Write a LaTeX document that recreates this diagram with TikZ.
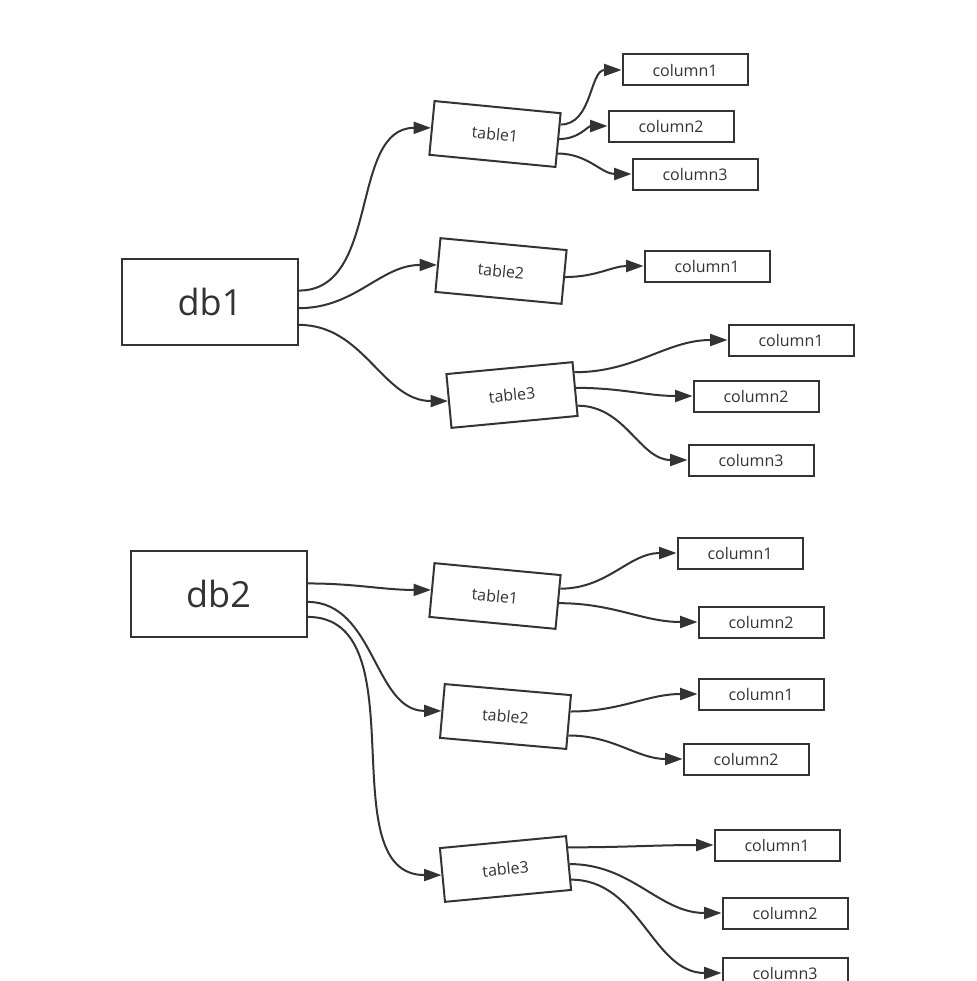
\documentclass[tikz,border=0pt]{standalone}
\usepackage{fontspec}
\setmainfont{Open Sans}
\usetikzlibrary{arrows.meta,calc}
\definecolor{ink}{HTML}{333333}
\tikzset{
  dbbox/.style={draw=ink, line width=1.5pt, minimum width=132pt, minimum height=64.5pt, inner sep=0pt, text=ink, font=\fontsize{27}{30}\selectfont},
  tablebox/.style={draw=ink, line width=1.5pt, minimum width=95pt, minimum height=40.5pt, inner sep=0pt, text=ink, font=\fontsize{12}{14}\selectfont},
  colbox/.style={draw=ink, line width=1.5pt, minimum width=93.75pt, minimum height=23.25pt, inner sep=0pt, text=ink, font=\fontsize{12}{14}\selectfont},
  link/.style={draw=ink, line width=1.5pt, -{Triangle[length=13pt,width=9pt]}},
}
\begin{document}
\begin{tikzpicture}[x=0.75pt, y=-0.75pt]
    \useasboundingbox (0,0) rectangle (976,981);
    % First database
    \node[dbbox] (db1) at (210,302) {db1};
    \node[tablebox, rotate=-5.5] (ta1) at (495,134) {table1};
    \node[tablebox, rotate=-5.4] (ta2) at (501,271) {table2};
    \node[tablebox, rotate=5.4] (ta3) at (512,395) {table3};
    \node[colbox] (ca11) at (685,70) {column1};
    \node[colbox] (ca12) at (671,126) {column2};
    \node[colbox] (ca13) at (695,174) {column3};
    \node[colbox] (ca21) at (707,266) {column1};
    \node[colbox] (ca31) at (791,340) {column1};
    \node[colbox] (ca32) at (756,396) {column2};
    \node[colbox] (ca33) at (751,460) {column3};
    \draw[link] ($(db1.north east)!0.37!(db1.south east)$) to[out=0,in=180] (ta1.west);
    \draw[link] ($(db1.north east)!0.57!(db1.south east)$) to[out=0,in=180] (ta2.west);
    \draw[link] ($(db1.north east)!0.76!(db1.south east)$) to[out=0,in=180] (ta3.west);
    \draw[link] ($(ta1.north east)!0.22!(ta1.south east)$) to[out=0,in=180] (ca11.west);
    \draw[link] ($(ta1.north east)!0.48!(ta1.south east)$) to[out=0,in=180] (ca12.west);
    \draw[link] ($(ta1.north east)!0.74!(ta1.south east)$) to[out=0,in=180] (ca13.west);
    \draw[link] (ta2.east) to[out=0,in=180] (ca21.west);
    \draw[link] ($(ta3.north east)!0.2!(ta3.south east)$) to[out=0,in=180] (ca31.west);
    \draw[link] ($(ta3.north east)!0.48!(ta3.south east)$) to[out=0,in=180] (ca32.west);
    \draw[link] ($(ta3.north east)!0.8!(ta3.south east)$) to[out=0,in=180] (ca33.west);
    % Second database
    \node[dbbox] (db2) at (218.5,594) {db2};
    \node[tablebox, rotate=-5.4] (tb1) at (495,596) {table1};
    \node[tablebox, rotate=-5] (tb2) at (505.5,716.5) {table2};
    \node[tablebox, rotate=5.4] (tb3) at (505.5,869) {table3};
    \node[colbox] (cb11) at (740,553) {column1};
    \node[colbox] (cb12) at (761,622) {column2};
    \node[colbox] (cb21) at (761,694) {column1};
    \node[colbox] (cb22) at (746,759) {column2};
    \node[colbox] (cb31) at (777,845) {column1};
    \node[colbox] (cb32) at (785,913) {column2};
    \node[colbox] (cb33) at (785,973) {column3};
    \draw[link] ($(db2.north east)!0.38!(db2.south east)$) to[out=0,in=180] (tb1.west);
    \draw[link] ($(db2.north east)!0.59!(db2.south east)$) to[out=0,in=180] (tb2.west);
    \draw[link] ($(db2.north east)!0.76!(db2.south east)$) to[out=0,in=180] (tb3.west);
    \draw[link] ($(tb1.north east)!0.26!(tb1.south east)$) to[out=0,in=180] (cb11.west);
    \draw[link] ($(tb1.north east)!0.52!(tb1.south east)$) to[out=0,in=180] (cb12.west);
    \draw[link] ($(tb2.north east)!0.31!(tb2.south east)$) to[out=0,in=180] (cb21.west);
    \draw[link] ($(tb2.north east)!0.74!(tb2.south east)$) to[out=0,in=180] (cb22.west);
    \draw[link] ($(tb3.north east)!0.22!(tb3.south east)$) to[out=0,in=180] (cb31.west);
    \draw[link] ($(tb3.north east)!0.52!(tb3.south east)$) to[out=0,in=180] (cb32.west);
    \draw[link] ($(tb3.north east)!0.8!(tb3.south east)$) to[out=0,in=180] (cb33.west);
\end{tikzpicture}
\end{document}
